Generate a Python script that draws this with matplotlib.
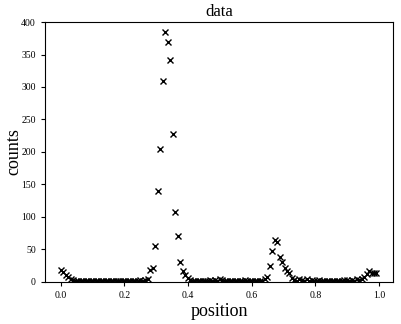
import numpy as np
import matplotlib
matplotlib.use("Agg")
import matplotlib.pyplot as plt

plt.rcParams['font.family'] = ['Liberation Serif', 'DejaVu Serif']

n_bins = 128
position = np.arange(n_bins) / n_bins
counts = np.array([
    # 0-15
    18, 15, 11, 7, 4, 3, 2, 2, 1, 2, 1, 1, 2, 1, 2, 1,
    # 16-31
    1, 2, 1, 1, 2, 1, 2, 1, 1, 2, 1, 2, 2, 1, 2, 2,
    # 32-47
    3, 2, 3, 4, 18, 22, 55, 140, 205, 309, 384, 369, 341, 227, 108, 70,
    # 48-63
    31, 17, 11, 6, 3, 2, 2, 1, 2, 1, 2, 2, 3, 2, 3, 2,
    # 64-79
    4, 3, 2, 1, 2, 1, 2, 2, 1, 2, 3, 2, 1, 2, 1, 2,
    # 80-95
    2, 1, 4, 8, 25, 48, 64, 61, 38, 30, 22, 17, 13, 6, 3, 2,
    # 96-111
    4, 3, 2, 4, 2, 3, 1, 2, 3, 2, 2, 1, 2, 1, 2, 1,
    # 112-127
    2, 2, 3, 3, 2, 3, 2, 4, 3, 5, 8, 12, 16, 13, 14, 13,
])

fig = plt.figure(figsize=(4.01, 3.24), dpi=100)
ax = fig.add_axes([0.112, 0.130, 0.868, 0.802])
ax.plot(position, counts, 'x', color='black', markersize=5, markeredgewidth=1.0)
ax.set_ylim(0, 400)
ax.set_xlim(-0.05, 1.044)
ax.set_title('data', fontsize=12, pad=4)
ax.set_xlabel('position', fontsize=13, labelpad=2)
ax.set_ylabel('counts', fontsize=13)
ax.yaxis.set_label_coords(-0.064, 0.5)
ax.tick_params(labelsize=7, length=3)
fig.savefig('out.png', dpi=100)
